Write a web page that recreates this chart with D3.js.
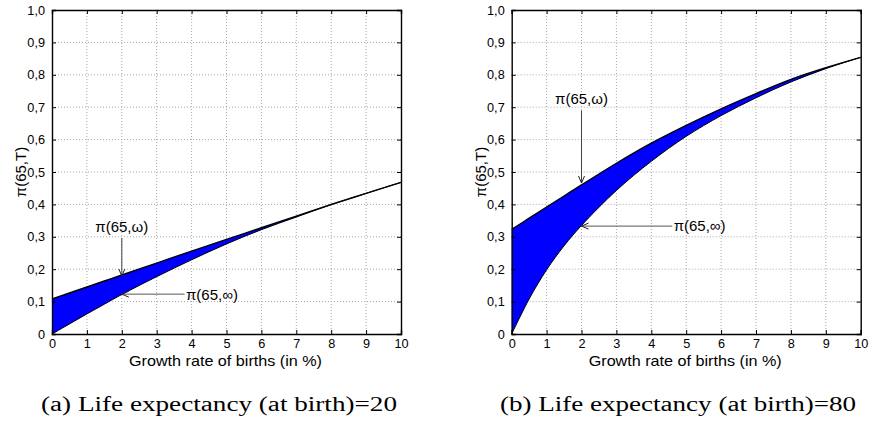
<!DOCTYPE html>
<html><head><meta charset="utf-8">
<script src="https://cdn.jsdelivr.net/npm/d3@7"></script>
<style>
body{margin:0;background:#fff;}
svg{display:block;}
text{font-family:"Liberation Sans",Arial,sans-serif;fill:#000;}
.cap{font-family:"Liberation Serif","Times New Roman",serif;}
</style></head><body>
<svg id="chart" width="870" height="423"></svg>
<script>
// ---- data ----
const xTicks = [0,1,2,3,4,5,6,7,8,9,10];
const yTicks = [0,0.1,0.2,0.3,0.4,0.5,0.6,0.7,0.8,0.9,1.0];
const growth = [0,0.5,1,1.5,2,3,4,5,6,7,8,9,10];
const upperA = [0.108,0.1265,0.145,0.1635,0.182,0.219,0.256,0.292,0.328,0.364,0.400,0.434,0.468];
const lowerA = [0.000,0.031,0.062,0.092,0.122,0.177,0.229,0.278,0.322,0.361,0.399,0.434,0.468];
const upperB = [0.323,0.3575,0.392,0.426,0.460,0.527,0.589,0.644,0.695,0.742,0.786,0.822,0.854];
const lowerB = [0.000,0.108,0.198,0.272,0.335,0.443,0.533,0.610,0.674,0.729,0.778,0.819,0.854];
const captions = ["(a) Life expectancy (at birth)=20","(b) Life expectancy (at birth)=80"];
const xLabel = "Growth rate of births (in %)";
const yLabel = "π(65,T)";
const labelOmega = "π(65,ω)";
const labelInf = "π(65,∞)";

const panels = [
  {x0:52, x1:401, upper:upperA, lower:lowerA, caption:captions[0], capX:219,
   omega:{tx:2, ty:0.315, from:0.296, to:0.179},
   inf:{tx:3.84, ty:0.105, from:3.8, to:2.0, y:0.123}},
  {x0:511.7, x1:860.7, upper:upperB, lower:lowerB, caption:captions[1], capX:678,
   omega:{tx:2, ty:0.71, from:0.69, to:0.466},
   inf:{tx:4.64, ty:0.318, from:4.6, to:2.0, y:0.333}}
];

const svg = d3.select("#chart");
const yTop = 10, yBot = 334;

function fmt(v){ return v===0 ? "0" : v.toFixed(1).replace(".", ","); }

function arrowHead(g, tx, ty, dx, dy){
  const L = 7, W = 3;
  const bx = tx - dx*L, by = ty - dy*L;
  const px = -dy, py = dx;
  g.append("path")
    .attr("d", `M${bx+px*W},${by+py*W} L${tx},${ty} L${bx-px*W},${by-py*W}`)
    .attr("fill","none").attr("stroke","#222").attr("stroke-width",1);
}

panels.forEach(p => {
  const x = d3.scaleLinear().domain([0,10]).range([p.x0, p.x1]);
  const y = d3.scaleLinear().domain([0,1]).range([yBot, yTop]);
  const g = svg.append("g");

  // grid
  g.append("g").selectAll("line").data(xTicks.slice(1,-1)).join("line")
    .attr("x1", d=>x(d)).attr("x2", d=>x(d)).attr("y1", yTop).attr("y2", yBot)
    .attr("stroke","#a8a8a8").attr("stroke-width",1).attr("stroke-dasharray","1,2");
  g.append("g").selectAll("line").data(yTicks.slice(1,-1)).join("line")
    .attr("y1", d=>y(d)).attr("y2", d=>y(d)).attr("x1", p.x0).attr("x2", p.x1)
    .attr("stroke","#a8a8a8").attr("stroke-width",1).attr("stroke-dasharray","1,2");

  // band
  const pts = growth.map((v,i)=>({x:v, u:p.upper[i], l:p.lower[i]}));
  const curve = d3.curveCatmullRom.alpha(0.5);
  const area = d3.area().x(d=>x(d.x)).y0(d=>y(d.l)).y1(d=>y(d.u)).curve(curve);
  g.append("path").datum(pts).attr("d", area).attr("fill","#0000ff");
  const lineU = d3.line().x(d=>x(d.x)).y(d=>y(d.u)).curve(curve);
  const lineL = d3.line().x(d=>x(d.x)).y(d=>y(d.l)).curve(curve);
  g.append("path").datum(pts).attr("d", lineU).attr("fill","none").attr("stroke","#000").attr("stroke-width",1.4);
  g.append("path").datum(pts).attr("d", lineL).attr("fill","none").attr("stroke","#000").attr("stroke-width",1);

  // axes (MATLAB box, inward ticks)
  const axB = d3.axisBottom(x).tickValues(xTicks).tickSize(-4).tickPadding(5).tickFormat(d=>d);
  const axT = d3.axisTop(x).tickValues(xTicks).tickSize(-4).tickFormat("");
  const axL = d3.axisLeft(y).tickValues(yTicks).tickSize(-4).tickPadding(7).tickFormat(fmt);
  const axR = d3.axisRight(y).tickValues(yTicks).tickSize(-4).tickFormat("");
  const style = sel => { sel.attr("font-family",null).attr("font-size",null);
    sel.selectAll("path").attr("stroke","#000").attr("stroke-width",1.4);
    sel.selectAll("line").attr("stroke","#000");
    sel.selectAll("text").attr("font-size",12.7); };
  g.append("g").attr("transform",`translate(0,${yBot})`).call(axB).call(style);
  g.append("g").attr("transform",`translate(0,${yTop})`).call(axT).call(style);
  g.append("g").attr("transform",`translate(${p.x0},0)`).call(axL).call(style);
  g.append("g").attr("transform",`translate(${p.x1},0)`).call(axR).call(style);

  // axis labels
  g.append("text").attr("x",(p.x0+p.x1)/2 - 1).attr("y",365.5).attr("text-anchor","middle")
    .attr("font-size",15).attr("textLength",193).attr("lengthAdjust","spacingAndGlyphs").text(xLabel);
  g.append("text").attr("transform",`translate(${p.x0-26},${(yTop+yBot)/2}) rotate(-90)`)
    .attr("text-anchor","middle").attr("font-size",15).text(yLabel);

  // annotations
  const o = p.omega;
  g.append("text").attr("x", x(o.tx)).attr("y", y(o.ty)).attr("text-anchor","middle")
    .attr("font-size",15).text(labelOmega);
  g.append("line").attr("x1",x(o.tx)).attr("x2",x(o.tx)).attr("y1",y(o.from)).attr("y2",y(o.to))
    .attr("stroke","#444").attr("stroke-width",1);
  arrowHead(g, x(o.tx), y(o.to), 0, 1);
  const f = p.inf;
  g.append("text").attr("x", x(f.tx)).attr("y", y(f.ty)).attr("text-anchor","start")
    .attr("font-size",15).text(labelInf);
  g.append("line").attr("x1",x(f.from)).attr("x2",x(f.to)).attr("y1",y(f.y)).attr("y2",y(f.y))
    .attr("stroke","#555").attr("stroke-width",1);
  arrowHead(g, x(f.to), y(f.y), -1, 0);

  // caption
  svg.append("text").attr("class","cap").attr("x",p.capX).attr("y",411).attr("text-anchor","middle")
    .attr("font-size",20).attr("textLength",356).attr("lengthAdjust","spacingAndGlyphs").text(p.caption);
});
</script>
</body></html>
